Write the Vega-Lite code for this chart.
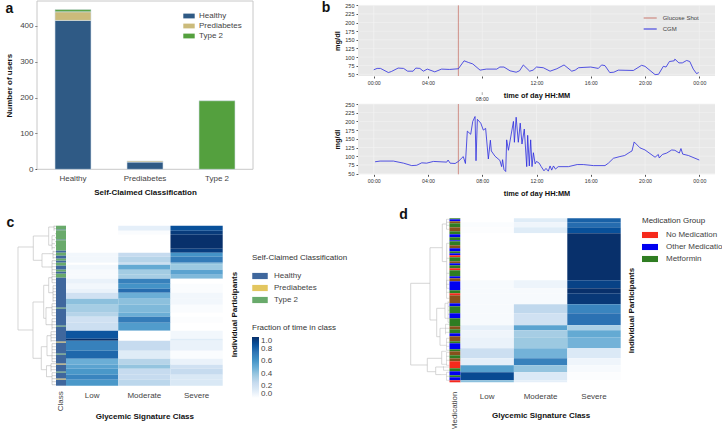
{
"$schema":"https://vega.github.io/schema/vega-lite/v6.json",
"width":722,"height":429,
"autosize":{"type":"none"},
"padding":0,
"background":"white",
"config":{"font":"Liberation Sans","view":{"stroke":null},"axis":{"labelFont":"Liberation Sans","titleFont":"Liberation Sans","labelFontSize":8,"titleFontSize":8,"titleFontWeight":"bold","titleColor":"#111","labelColor":"#444","grid":false,"labelAngle":0},"legend":{"labelFont":"Liberation Sans","titleFont":"Liberation Sans","labelFontSize":8,"titleFontSize":8,"titleFontWeight":"normal","labelColor":"#444","titleColor":"#333"}},
"datasets":{
"cgm1":[{"h":0,"v":63,"s":"CGM"},{"h":0.25,"v":67,"s":"CGM"},{"h":0.5,"v":67,"s":"CGM"},{"h":1.08,"v":55,"s":"CGM"},{"h":1.3,"v":58,"s":"CGM"},{"h":1.8,"v":68,"s":"CGM"},{"h":2.2,"v":67,"s":"CGM"},{"h":2.5,"v":59,"s":"CGM"},{"h":2.9,"v":59,"s":"CGM"},{"h":3.1,"v":68,"s":"CGM"},{"h":3.4,"v":67,"s":"CGM"},{"h":3.66,"v":59,"s":"CGM"},{"h":3.95,"v":65,"s":"CGM"},{"h":4.3,"v":60,"s":"CGM"},{"h":4.5,"v":57,"s":"CGM"},{"h":5,"v":65,"s":"CGM"},{"h":5.6,"v":64,"s":"CGM"},{"h":6.24,"v":66,"s":"CGM"},{"h":6.66,"v":89,"s":"CGM"},{"h":7,"v":84,"s":"CGM"},{"h":7.3,"v":80,"s":"CGM"},{"h":7.84,"v":62,"s":"CGM"},{"h":8.3,"v":65,"s":"CGM"},{"h":9.07,"v":65,"s":"CGM"},{"h":9.3,"v":71,"s":"CGM"},{"h":9.6,"v":71,"s":"CGM"},{"h":10.05,"v":60,"s":"CGM"},{"h":10.5,"v":56,"s":"CGM"},{"h":10.75,"v":60,"s":"CGM"},{"h":11.03,"v":77,"s":"CGM"},{"h":11.5,"v":59,"s":"CGM"},{"h":11.75,"v":62,"s":"CGM"},{"h":12,"v":71,"s":"CGM"},{"h":12.5,"v":69,"s":"CGM"},{"h":13,"v":59,"s":"CGM"},{"h":13.5,"v":66,"s":"CGM"},{"h":14.03,"v":77,"s":"CGM"},{"h":14.6,"v":59,"s":"CGM"},{"h":14.85,"v":62,"s":"CGM"},{"h":15.1,"v":69,"s":"CGM"},{"h":15.5,"v":70,"s":"CGM"},{"h":16,"v":71,"s":"CGM"},{"h":16.56,"v":67,"s":"CGM"},{"h":16.8,"v":77,"s":"CGM"},{"h":17.05,"v":75,"s":"CGM"},{"h":17.4,"v":55,"s":"CGM"},{"h":17.7,"v":56,"s":"CGM"},{"h":18.03,"v":62,"s":"CGM"},{"h":19.14,"v":61,"s":"CGM"},{"h":19.75,"v":76,"s":"CGM"},{"h":20,"v":73,"s":"CGM"},{"h":20.74,"v":49,"s":"CGM"},{"h":21,"v":50,"s":"CGM"},{"h":21.35,"v":73,"s":"CGM"},{"h":21.55,"v":71,"s":"CGM"},{"h":21.8,"v":87,"s":"CGM"},{"h":22.15,"v":89,"s":"CGM"},{"h":22.2,"v":94,"s":"CGM"},{"h":22.5,"v":83,"s":"CGM"},{"h":22.75,"v":83,"s":"CGM"},{"h":23.07,"v":90,"s":"CGM"},{"h":23.3,"v":87,"s":"CGM"},{"h":23.56,"v":65,"s":"CGM"},{"h":23.8,"v":52,"s":"CGM"},{"h":23.96,"v":55,"s":"CGM"}],
"cgm2":[{"h":0.1,"v":84},{"h":0.47,"v":86},{"h":1.45,"v":86},{"h":2.2,"v":80},{"h":2.8,"v":73},{"h":3.17,"v":74},{"h":3.54,"v":81},{"h":3.9,"v":80},{"h":4.4,"v":85},{"h":5.38,"v":83},{"h":5.48,"v":89},{"h":5.63,"v":80},{"h":6,"v":79},{"h":6.24,"v":85},{"h":6.6,"v":99},{"h":6.76,"v":79},{"h":6.9,"v":172},{"h":7.15,"v":163},{"h":7.3,"v":200},{"h":7.47,"v":214},{"h":7.54,"v":87},{"h":7.64,"v":206},{"h":7.89,"v":195},{"h":8.08,"v":175},{"h":8.25,"v":180},{"h":8.45,"v":92},{"h":8.6,"v":146},{"h":8.67,"v":115},{"h":8.94,"v":100},{"h":9.3,"v":88},{"h":9.43,"v":70},{"h":9.5,"v":90},{"h":9.6,"v":62},{"h":9.73,"v":56},{"h":9.8,"v":147},{"h":9.93,"v":117},{"h":10.3,"v":200},{"h":10.37,"v":140},{"h":10.5,"v":212},{"h":10.66,"v":140},{"h":10.8,"v":195},{"h":10.93,"v":135},{"h":11.1,"v":178},{"h":11.28,"v":70},{"h":11.35,"v":160},{"h":11.47,"v":72},{"h":11.57,"v":147},{"h":11.67,"v":70},{"h":11.77,"v":110},{"h":11.9,"v":78},{"h":12,"v":85},{"h":12.2,"v":80},{"h":12.35,"v":70},{"h":12.55,"v":58},{"h":12.7,"v":65},{"h":12.87,"v":57},{"h":13,"v":72},{"h":13.12,"v":60},{"h":13.25,"v":72},{"h":13.4,"v":63},{"h":13.6,"v":70},{"h":14.35,"v":70},{"h":15,"v":76},{"h":15.45,"v":76},{"h":16.2,"v":73},{"h":17.05,"v":73},{"h":17.3,"v":80},{"h":17.67,"v":94},{"h":18.15,"v":99},{"h":18.5,"v":102},{"h":18.9,"v":112},{"h":19.04,"v":115},{"h":19.2,"v":141},{"h":19.63,"v":124},{"h":20,"v":118},{"h":20.74,"v":97},{"h":20.98,"v":105},{"h":21.05,"v":95},{"h":21.28,"v":105},{"h":21.6,"v":109},{"h":21.97,"v":118},{"h":22.2,"v":117},{"h":22.53,"v":109},{"h":22.65,"v":122},{"h":22.78,"v":106},{"h":23.2,"v":102},{"h":24,"v":89}],
"hg":[{"h":0},{"h":4},{"h":8},{"h":12},{"h":16},{"h":20},{"h":24}],
"vg":[{"v":50},{"v":75},{"v":100},{"v":125},{"v":150},{"v":175},{"v":200},{"v":225},{"v":250}]
},
"resolve":{"scale":{"x":"independent","y":"independent","color":"independent"},"axis":{"x":"independent","y":"independent"},"legend":{"color":"independent"}},
"layer":[
{"data":{"values":[{"t":"a"}]},"mark":{"type":"text","x":9.5,"y":9,"fontSize":14,"fontWeight":"bold","color":"#111"},"encoding":{"text":{"field":"t"}}},
{"data":{"values":[{"t":"b"}]},"mark":{"type":"text","x":326,"y":8,"fontSize":14,"fontWeight":"bold","color":"#111"},"encoding":{"text":{"field":"t"}}},
{"data":{"values":[{"t":"c"}]},"mark":{"type":"text","x":10.5,"y":223,"fontSize":14,"fontWeight":"bold","color":"#111"},"encoding":{"text":{"field":"t"}}},
{"data":{"values":[{"t":"d"}]},"mark":{"type":"text","x":403.5,"y":215,"fontSize":14,"fontWeight":"bold","color":"#111"},"encoding":{"text":{"field":"t"}}},

{"data":{"values":[{"x0":0,"x1":1,"y0":0,"y1":1}]},"mark":{"type":"rect","fill":null,"stroke":"#c8c8c8","strokeWidth":1},"encoding":{"x":{"field":"x0","type":"quantitative","axis":null,"scale":{"domain":[0,1],"range":[37,253],"nice":false}},"x2":{"field":"x1"},"y":{"field":"y0","type":"quantitative","axis":null,"scale":{"domain":[0,1],"range":[169.3,1],"nice":false}},"y2":{"field":"y1"}}},
{"data":{"values":[{"c":"Healthy","t":"Healthy","n":415},{"c":"Healthy","t":"Prediabetes","n":24},{"c":"Healthy","t":"Type 2","n":6},{"c":"Prediabetes","t":"Healthy","n":20},{"c":"Prediabetes","t":"Prediabetes","n":3},{"c":"Type 2","t":"Type 2","n":191}]},
"mark":{"type":"bar","stroke":"#d3dfe9","strokeWidth":0.6},
"encoding":{
"x":{"field":"c","type":"nominal","title":"Self-Claimed Classification","sort":["Healthy","Prediabetes","Type 2"],"scale":{"range":[37,253],"paddingInner":0.5,"paddingOuter":0.25},"axis":{"orient":"bottom","offset":-259.7,"ticks":false,"labelPadding":5,"domain":false,"titlePadding":6}},
"y":{"field":"n","type":"quantitative","title":"Number of users","stack":"zero","scale":{"domain":[0,469],"nice":false,"range":[169.3,1]},"axis":{"orient":"left","offset":-37,"values":[0,100,200,300,400],"tickSize":2,"tickColor":"#444","domain":false,"labelPadding":2,"titlePadding":6}},
"color":{"field":"t","type":"nominal","scale":{"domain":["Healthy","Prediabetes","Type 2"],"range":["#2f5a85","#cbbb7b","#54a03e"]},"legend":{"title":null,"orient":"none","legendX":183,"legendY":10,"symbolType":"M-1,-0.42H1V0.42H-1Z","symbolSize":130,"symbolStrokeWidth":0,"labelOffset":4,"rowPadding":0}},
"order":{"field":"t","sort":"ascending"}
}},

{"layer":[
{"data":{"values":[{"s":"bg"}]},"mark":{"type":"rect","color":"#e8e8e8"},"encoding":{"x":{"datum":-1.16,"type":"quantitative","axis":null,"scale":{"domain":[-1.16,25.16],"range":[358,715],"nice":false,"zero":false}},"x2":{"datum":25.16},"y":{"datum":45,"type":"quantitative","axis":null,"scale":{"domain":[45,250],"range":[76,5.3],"nice":false,"zero":false}},"y2":{"datum":250}}},
{"data":{"name":"hg"},"mark":{"type":"rule","color":"#f4f4f4","strokeWidth":0.6},"encoding":{"x":{"field":"h","type":"quantitative","axis":null},"y":{"datum":45,"type":"quantitative","axis":null},"y2":{"datum":250}}},
{"data":{"name":"vg"},"mark":{"type":"rule","color":"#f4f4f4","strokeWidth":0.6},"encoding":{"y":{"field":"v","type":"quantitative","axis":null},"x":{"datum":-1.16,"type":"quantitative","axis":null},"x2":{"datum":25.16}}},
{"data":{"values":[{"h":6.24}]},"mark":{"type":"rule","strokeWidth":0.8,"color":"#c9796e"},"encoding":{"x":{"field":"h","type":"quantitative","axis":null},"y":{"datum":45,"type":"quantitative","axis":null},"y2":{"datum":250}}},
{"data":{"values":[{"h":8,"v":-10,"v2":-2}]},"mark":{"type":"rule","strokeWidth":0.5,"color":"#555"},"encoding":{"x":{"field":"h","type":"quantitative","axis":null},"y":{"field":"v","type":"quantitative","axis":null},"y2":{"field":"v2"}}},
{"data":{"values":[{"h":8,"v":-20.8,"t":"08:00"}]},"mark":{"type":"text","fontSize":5.2,"color":"#333"},"encoding":{"x":{"field":"h","type":"quantitative","axis":null},"y":{"field":"v","type":"quantitative","axis":null},"text":{"field":"t"}}}
]},
{"data":{"name":"cgm1"},"mark":{"type":"line","strokeWidth":0.8},"encoding":{"x":{"field":"h","type":"quantitative","title":"time of day HH:MM","scale":{"domain":[-1.16,25.16],"range":[358,715],"nice":false,"zero":false},"axis":{"orient":"bottom","offset":-353,"values":[0,4,8,12,16,20,24],"labelExpr":"datum.value==8?'':(datum.value%24<10?'0':'')+(datum.value%24)+':00'","tickSize":2,"tickColor":"#555","domain":false,"labelFontSize":5.2,"labelPadding":2,"labelColor":"#333","titleFontSize":7.4,"titlePadding":6}},"y":{"field":"v","type":"quantitative","title":"mg/dl","scale":{"domain":[45,250],"range":[76,5.3],"nice":false,"zero":false},"axis":{"orient":"left","offset":-358,"values":[50,75,100,125,150,175,200,225,250],"tickSize":2,"tickColor":"#555","domain":false,"labelFontSize":5.6,"labelPadding":2,"labelColor":"#333","titleFontSize":7.4,"titlePadding":3}},"color":{"field":"s","type":"nominal","scale":{"domain":["Glucose Shot","CGM"],"range":["#c9796e","#2b2be0"]},"legend":{"title":null,"orient":"none","legendX":642.7,"legendY":10.5,"symbolType":"stroke","symbolSize":170,"symbolStrokeWidth":1,"labelFontSize":6,"labelOffset":5,"rowPadding":-4}}}},

{"layer":[
{"data":{"values":[{"s":"bg"}]},"mark":{"type":"rect","color":"#e8e8e8"},"encoding":{"x":{"datum":-1.16,"type":"quantitative","axis":null,"scale":{"domain":[-1.16,25.16],"range":[358,715],"nice":false,"zero":false}},"x2":{"datum":25.16},"y":{"datum":48,"type":"quantitative","axis":null,"scale":{"domain":[48,250],"range":[174.3,104],"nice":false,"zero":false}},"y2":{"datum":250}}},
{"data":{"name":"hg"},"mark":{"type":"rule","color":"#f4f4f4","strokeWidth":0.6},"encoding":{"x":{"field":"h","type":"quantitative","axis":null},"y":{"datum":48,"type":"quantitative","axis":null},"y2":{"datum":250}}},
{"data":{"name":"vg"},"mark":{"type":"rule","color":"#f4f4f4","strokeWidth":0.6},"encoding":{"y":{"field":"v","type":"quantitative","axis":null},"x":{"datum":-1.16,"type":"quantitative","axis":null},"x2":{"datum":25.16}}},
{"data":{"values":[{"h":6.24}]},"mark":{"type":"rule","strokeWidth":0.8,"color":"#c9796e"},"encoding":{"x":{"field":"h","type":"quantitative","axis":null},"y":{"datum":48,"type":"quantitative","axis":null},"y2":{"datum":250}}}
]},
{"data":{"name":"cgm2"},"mark":{"type":"line","strokeWidth":0.8,"color":"#2b2be0"},"encoding":{"x":{"field":"h","type":"quantitative","title":"time of day HH:MM","scale":{"domain":[-1.16,25.16],"range":[358,715],"nice":false,"zero":false},"axis":{"orient":"bottom","offset":-254.7,"values":[0,4,8,12,16,20,24],"labelExpr":"(datum.value%24<10?'0':'')+(datum.value%24)+':00'","tickSize":2,"tickColor":"#555","domain":false,"labelFontSize":5.2,"labelPadding":2,"labelColor":"#333","titleFontSize":7.4,"titlePadding":6}},"y":{"field":"v","type":"quantitative","title":"mg/dl","scale":{"domain":[48,250],"range":[174.3,104],"nice":false,"zero":false},"axis":{"orient":"left","offset":-358,"values":[50,75,100,125,150,175,200,225,250],"tickSize":2,"tickColor":"#555","domain":false,"labelFontSize":5.6,"labelPadding":2,"labelColor":"#333","titleFontSize":7.4,"titlePadding":3}}}},

{"layer":[
{"data":{"values":[
{"a":38,"b":38,"c":21.3,"d":104.3},{"a":38,"b":22.7,"c":21.3,"d":21.3},{"a":22.7,"b":22.7,"c":10.3,"d":34.6},{"a":22.7,"b":7.3,"c":10.3,"d":10.3},{"a":22.7,"b":14,"c":34.6,"d":34.6},{"a":7.3,"b":7.3,"c":1.3,"d":19.5},{"a":14,"b":14,"c":28,"d":41.3},{"a":38,"b":23,"c":104.3,"d":104.3},{"a":23,"b":23,"c":76.3,"d":132.6},{"a":23,"b":12.3,"c":76.3,"d":76.3},{"a":12.3,"b":12.3,"c":59.6,"d":92.6},{"a":12.3,"b":7.3,"c":59.6,"d":59.6},{"a":7.3,"b":7.3,"c":52,"d":67},{"a":12.3,"b":10,"c":92.6,"d":92.6},{"a":10,"b":10,"c":82,"d":99},{"a":23,"b":14.7,"c":132.6,"d":132.6},{"a":14.7,"b":14.7,"c":121,"d":144},{"a":14.7,"b":9,"c":121,"d":121},{"a":9,"b":9,"c":110,"d":130},{"a":14.7,"b":9.5,"c":144,"d":144},{"a":9.5,"b":9.5,"c":140,"d":151},{"a":14,"b":7,"c":28,"d":28},{"a":14,"b":8,"c":41.3,"d":41.3}
]},"mark":{"type":"rule","strokeWidth":0.7,"color":"#c4c4c4"},"encoding":{"x":{"field":"a","type":"quantitative","axis":null,"scale":{"domain":[38,0],"range":[18,56],"nice":false,"zero":false}},"x2":{"field":"b"},"y":{"field":"c","type":"quantitative","axis":null,"scale":{"domain":[0,160],"range":[225.7,385.7],"nice":false,"zero":false}},"y2":{"field":"d"}}},
{"data":{"values":[
{"a":7.3,"b":2,"c":1.3,"d":1.3},{"a":2,"b":2,"c":0,"d":5},{"a":2,"b":0,"c":0.5,"d":0.5},{"a":2,"b":0,"c":3,"d":3},{"a":7.3,"b":4,"c":19.5,"d":19.5},{"a":4,"b":4,"c":10,"d":24},{"a":4,"b":1,"c":10,"d":10},{"a":4,"b":1,"c":14,"d":14},{"a":4,"b":1,"c":18,"d":18},{"a":4,"b":1,"c":22,"d":22},{"a":1,"b":0,"c":8,"d":8},{"a":1,"b":0,"c":12,"d":12},{"a":1,"b":0,"c":16,"d":16},{"a":1,"b":0,"c":20,"d":20},
{"a":7,"b":3,"c":28,"d":28},{"a":3,"b":3,"c":25,"d":33},{"a":3,"b":0,"c":26,"d":26},{"a":3,"b":0,"c":29,"d":29},{"a":3,"b":0,"c":32,"d":32},{"a":8,"b":4,"c":41.3,"d":41.3},{"a":4,"b":4,"c":35,"d":49},{"a":4,"b":0,"c":35,"d":35},{"a":4,"b":0,"c":38,"d":38},{"a":4,"b":0,"c":41,"d":41},{"a":4,"b":0,"c":44,"d":44},{"a":4,"b":0,"c":47,"d":47},{"a":4,"b":0,"c":49,"d":49},
{"a":7.3,"b":4,"c":52,"d":52},{"a":4,"b":4,"c":50,"d":57},{"a":4,"b":0,"c":51,"d":51},{"a":4,"b":0,"c":54,"d":54},{"a":4,"b":0,"c":57,"d":57},{"a":7.3,"b":3,"c":67,"d":67},{"a":3,"b":3,"c":60,"d":76},{"a":3,"b":0,"c":60,"d":60},{"a":3,"b":0,"c":63,"d":63},{"a":3,"b":0,"c":66,"d":66},{"a":3,"b":0,"c":69,"d":69},{"a":3,"b":0,"c":72,"d":72},{"a":3,"b":0,"c":75,"d":75},
{"a":10,"b":4,"c":82,"d":82},{"a":4,"b":4,"c":78,"d":90},{"a":4,"b":0,"c":78,"d":78},{"a":4,"b":0,"c":81,"d":81},{"a":4,"b":0,"c":84,"d":84},{"a":4,"b":0,"c":87,"d":87},{"a":4,"b":0,"c":90,"d":90},{"a":10,"b":4,"c":99,"d":99},{"a":4,"b":4,"c":93,"d":104},{"a":4,"b":0,"c":93,"d":93},{"a":4,"b":0,"c":96,"d":96},{"a":4,"b":0,"c":99,"d":99},{"a":4,"b":0,"c":102,"d":102},
{"a":9,"b":5,"c":110,"d":110},{"a":5,"b":5,"c":106,"d":116},{"a":5,"b":0,"c":106,"d":106},{"a":5,"b":0,"c":109,"d":109},{"a":5,"b":0,"c":112,"d":112},{"a":5,"b":0,"c":115,"d":115},{"a":9,"b":4,"c":130,"d":130},{"a":4,"b":4,"c":118,"d":136},{"a":4,"b":0,"c":118,"d":118},{"a":4,"b":0,"c":121,"d":121},{"a":4,"b":0,"c":124,"d":124},{"a":4,"b":0,"c":127,"d":127},{"a":4,"b":0,"c":130,"d":130},{"a":4,"b":0,"c":133,"d":133},{"a":4,"b":0,"c":136,"d":136},
{"a":9.5,"b":5,"c":140,"d":140},{"a":5,"b":5,"c":138,"d":146},{"a":5,"b":0,"c":138,"d":138},{"a":5,"b":0,"c":141,"d":141},{"a":5,"b":0,"c":144,"d":144},{"a":9.5,"b":4,"c":151,"d":151},{"a":4,"b":4,"c":147,"d":159},{"a":4,"b":0,"c":147,"d":147},{"a":4,"b":0,"c":150,"d":150},{"a":4,"b":0,"c":153,"d":153},{"a":4,"b":0,"c":156,"d":156},{"a":4,"b":0,"c":159,"d":159}
]},"mark":{"type":"rule","strokeWidth":0.4,"color":"#8f8f8f"},"encoding":{"x":{"field":"a","type":"quantitative","axis":null},"x2":{"field":"b"},"y":{"field":"c","type":"quantitative","axis":null},"y2":{"field":"d"}}}
]},

{"data":{"values":[
{"l":"Class","y0":0,"y1":4,"k":"Type 2"},{"l":"Class","y0":4,"y1":4.6,"k":"Healthy"},{"l":"Class","y0":4.6,"y1":14,"k":"Type 2"},{"l":"Class","y0":14,"y1":14.6,"k":"Healthy"},{"l":"Class","y0":14.6,"y1":25,"k":"Type 2"},{"l":"Class","y0":25,"y1":27,"k":"Healthy"},{"l":"Class","y0":27,"y1":30,"k":"Type 2"},{"l":"Class","y0":30,"y1":33,"k":"Healthy"},{"l":"Class","y0":33,"y1":35,"k":"Type 2"},{"l":"Class","y0":35,"y1":37,"k":"Healthy"},{"l":"Class","y0":37,"y1":40,"k":"Type 2"},{"l":"Class","y0":40,"y1":44,"k":"Healthy"},{"l":"Class","y0":44,"y1":46,"k":"Type 2"},{"l":"Class","y0":46,"y1":48,"k":"Healthy"},{"l":"Class","y0":48,"y1":52,"k":"Type 2"},{"l":"Class","y0":52,"y1":82,"k":"Healthy"},{"l":"Class","y0":82,"y1":83,"k":"Type 2"},{"l":"Class","y0":83,"y1":100,"k":"Healthy"},{"l":"Class","y0":100,"y1":101,"k":"Type 2"},{"l":"Class","y0":101,"y1":116,"k":"Healthy"},{"l":"Class","y0":116,"y1":117,"k":"Prediabetes"},{"l":"Class","y0":117,"y1":128,"k":"Healthy"},{"l":"Class","y0":128,"y1":129,"k":"Type 2"},{"l":"Class","y0":129,"y1":138,"k":"Healthy"},{"l":"Class","y0":138,"y1":139,"k":"Prediabetes"},{"l":"Class","y0":139,"y1":146,"k":"Healthy"},{"l":"Class","y0":146,"y1":147,"k":"Type 2"},{"l":"Class","y0":147,"y1":153,"k":"Healthy"},{"l":"Class","y0":153,"y1":154,"k":"Prediabetes"},{"l":"Class","y0":154,"y1":160,"k":"Healthy"}
]},
"mark":"rect",
"encoding":{
"x":{"field":"l","type":"nominal","title":null,"scale":{"range":[56,66],"paddingInner":0,"paddingOuter":0},"axis":{"orient":"bottom","offset":-43.3,"ticks":false,"domain":false,"labelAngle":270,"labelAlign":"right","labelBaseline":"middle","labelPadding":5}},
"y":{"field":"y0","type":"quantitative","axis":null,"scale":{"domain":[0,160],"range":[225.7,385.7],"nice":false,"zero":false}},"y2":{"field":"y1"},
"color":{"field":"k","type":"nominal","scale":{"domain":["Healthy","Prediabetes","Type 2"],"range":["#3f679d","#e3c65f","#69aa6b"]},"legend":{"title":"Self-Claimed Classification","orient":"none","legendX":252,"legendY":254,"symbolType":"M-1,-0.4H1V0.4H-1Z","symbolSize":240,"symbolStrokeWidth":0,"labelOffset":6,"rowPadding":-4.5,"titlePadding":6}}
}},
{"data":{"values":[
{"y0":0,"y1":5,"k":"Low","f":0},{"y0":0,"y1":5,"k":"Moderate","f":0.1},{"y0":0,"y1":5,"k":"Severe","f":0.88},
{"y0":5,"y1":9,"k":"Low","f":0},{"y0":5,"y1":9,"k":"Moderate","f":0.02},{"y0":5,"y1":9,"k":"Severe","f":0.96},
{"y0":9,"y1":23,"k":"Low","f":0},{"y0":9,"y1":23,"k":"Moderate","f":0},{"y0":9,"y1":23,"k":"Severe","f":1},
{"y0":23,"y1":27,"k":"Low","f":0},{"y0":23,"y1":27,"k":"Moderate","f":0},{"y0":23,"y1":27,"k":"Severe","f":0.95},
{"y0":27,"y1":31,"k":"Low","f":0.05},{"y0":27,"y1":31,"k":"Moderate","f":0.25},{"y0":27,"y1":31,"k":"Severe","f":0.62},
{"y0":31,"y1":37,"k":"Low","f":0.05},{"y0":31,"y1":37,"k":"Moderate","f":0.3},{"y0":31,"y1":37,"k":"Severe","f":0.72},
{"y0":37,"y1":39,"k":"Low","f":0},{"y0":37,"y1":39,"k":"Moderate","f":0.22},{"y0":37,"y1":39,"k":"Severe","f":0.42},
{"y0":39,"y1":44,"k":"Low","f":0.05},{"y0":39,"y1":44,"k":"Moderate","f":0.52},{"y0":39,"y1":44,"k":"Severe","f":0.38},
{"y0":44,"y1":49,"k":"Low","f":0.03},{"y0":44,"y1":49,"k":"Moderate","f":0.36},{"y0":44,"y1":49,"k":"Severe","f":0.55},
{"y0":49,"y1":53,"k":"Low","f":0.03},{"y0":49,"y1":53,"k":"Moderate","f":0.35},{"y0":49,"y1":53,"k":"Severe","f":0.45},
{"y0":53,"y1":58,"k":"Low","f":0.08},{"y0":53,"y1":58,"k":"Moderate","f":0.7},{"y0":53,"y1":58,"k":"Severe","f":0},
{"y0":58,"y1":63,"k":"Low","f":0.05},{"y0":58,"y1":63,"k":"Moderate","f":0.62},{"y0":58,"y1":63,"k":"Severe","f":0.02},
{"y0":63,"y1":67,"k":"Low","f":0.08},{"y0":63,"y1":67,"k":"Moderate","f":0.78},{"y0":63,"y1":67,"k":"Severe","f":0.02},
{"y0":67,"y1":73,"k":"Low","f":0.2},{"y0":67,"y1":73,"k":"Moderate","f":0.5},{"y0":67,"y1":73,"k":"Severe","f":0.05},
{"y0":73,"y1":79,"k":"Low","f":0.42},{"y0":73,"y1":79,"k":"Moderate","f":0.42},{"y0":73,"y1":79,"k":"Severe","f":0.05},
{"y0":79,"y1":87,"k":"Low","f":0.35},{"y0":79,"y1":87,"k":"Moderate","f":0.45},{"y0":79,"y1":87,"k":"Severe","f":0.02},
{"y0":87,"y1":91,"k":"Low","f":0.3},{"y0":87,"y1":91,"k":"Moderate","f":0.5},{"y0":87,"y1":91,"k":"Severe","f":0},
{"y0":91,"y1":97,"k":"Low","f":0.2},{"y0":91,"y1":97,"k":"Moderate","f":0.72},{"y0":91,"y1":97,"k":"Severe","f":0.01},
{"y0":97,"y1":105,"k":"Low","f":0.22},{"y0":97,"y1":105,"k":"Moderate","f":0.58},{"y0":97,"y1":105,"k":"Severe","f":0},
{"y0":105,"y1":113,"k":"Low","f":0.86},{"y0":105,"y1":113,"k":"Moderate","f":0},{"y0":105,"y1":113,"k":"Severe","f":0.05},
{"y0":113,"y1":115,"k":"Low","f":1},{"y0":113,"y1":115,"k":"Moderate","f":0},{"y0":113,"y1":115,"k":"Severe","f":0.12},
{"y0":115,"y1":125,"k":"Low","f":0.7},{"y0":115,"y1":125,"k":"Moderate","f":0.25},{"y0":115,"y1":125,"k":"Severe","f":0.08},
{"y0":125,"y1":133,"k":"Low","f":0.8},{"y0":125,"y1":133,"k":"Moderate","f":0.12},{"y0":125,"y1":133,"k":"Severe","f":0.02},
{"y0":133,"y1":139,"k":"Low","f":0.5},{"y0":133,"y1":139,"k":"Moderate","f":0.3},{"y0":133,"y1":139,"k":"Severe","f":0.08},
{"y0":139,"y1":143,"k":"Low","f":0.55},{"y0":139,"y1":143,"k":"Moderate","f":0.4},{"y0":139,"y1":143,"k":"Severe","f":0.2},
{"y0":143,"y1":149,"k":"Low","f":0.6},{"y0":143,"y1":149,"k":"Moderate","f":0.25},{"y0":143,"y1":149,"k":"Severe","f":0.25},
{"y0":149,"y1":154,"k":"Low","f":0.68},{"y0":149,"y1":154,"k":"Moderate","f":0.25},{"y0":149,"y1":154,"k":"Severe","f":0.15},
{"y0":154,"y1":160,"k":"Low","f":0.6},{"y0":154,"y1":160,"k":"Moderate","f":0.28},{"y0":154,"y1":160,"k":"Severe","f":0.15}
]},
"mark":"rect",
"encoding":{
"x":{"field":"k","type":"nominal","title":"Glycemic Signature Class","scale":{"domain":["Low","Moderate","Severe"],"range":[66,222.7],"paddingInner":0,"paddingOuter":0},"axis":{"orient":"bottom","offset":-43.3,"ticks":false,"domain":false,"labelPadding":6,"titlePadding":13}},
"y":{"field":"y0","type":"quantitative","title":"Individual Participants","scale":{"domain":[0,160],"range":[225.7,385.7],"nice":false,"zero":false},"axis":{"orient":"right","offset":-499.3,"ticks":false,"labels":false,"domain":false,"titleAngle":270,"titleY":314,"titlePadding":16}},
"y2":{"field":"y1"},
"color":{"field":"f","type":"quantitative","scale":{"domain":[0,1],"interpolate":"rgb","range":["#ffffff","#deebf7","#c6dbef","#9ecae1","#6baed6","#4292c6","#2f75b5","#08519c","#08306b"]},"legend":{"title":"Fraction of time in class","orient":"none","legendX":252,"legendY":324,"direction":"vertical","gradientLength":61,"gradientThickness":7,"values":[0,0.2,0.4,0.6,0.8,1],"format":".1f","titlePadding":5}}
}},

{"layer":[
{"data":{"values":[
{"a":38.8,"b":38.8,"c":65,"d":146.7},{"a":38.8,"b":19.5,"c":65,"d":65},{"a":19.5,"b":19.5,"c":29.4,"d":101.7},{"a":19.5,"b":7.2,"c":29.4,"d":29.4},{"a":7.2,"b":7.2,"c":5.7,"d":43.3},{"a":19.5,"b":12.8,"c":101.7,"d":101.7},{"a":12.8,"b":12.8,"c":90,"d":118.4},{"a":12.8,"b":4.5,"c":90,"d":90},{"a":4.5,"b":4.5,"c":85,"d":100},{"a":12.8,"b":9.5,"c":118.4,"d":118.4},{"a":9.5,"b":9.5,"c":110,"d":127},{"a":38.8,"b":22.2,"c":146.7,"d":146.7},{"a":22.2,"b":22.2,"c":140,"d":153.4},{"a":22.2,"b":7.8,"c":140,"d":140},{"a":7.8,"b":7.8,"c":133,"d":146},{"a":22.2,"b":13.8,"c":153.4,"d":153.4},{"a":13.8,"b":13.8,"c":148.7,"d":156.3},{"a":13.8,"b":6,"c":148.7,"d":148.7},{"a":13.8,"b":8,"c":156.3,"d":156.3},{"a":7.2,"b":2.8,"c":43.3,"d":43.3},{"a":2.8,"b":2.8,"c":25,"d":70},{"a":7.2,"b":3,"c":5.7,"d":5.7},{"a":3,"b":3,"c":1,"d":11}
]},"mark":{"type":"rule","strokeWidth":0.7,"color":"#c4c4c4"},"encoding":{"x":{"field":"a","type":"quantitative","axis":null,"scale":{"domain":[39.5,0],"range":[410,449.5],"nice":false,"zero":false}},"x2":{"field":"b"},"y":{"field":"c","type":"quantitative","axis":null,"scale":{"domain":[0,164],"range":[218.3,382.3],"nice":false,"zero":false}},"y2":{"field":"d"}}},
{"data":{"values":[
{"a":3,"b":0,"c":1,"d":1},{"a":3,"b":0,"c":4,"d":4},{"a":3,"b":0,"c":7,"d":7},{"a":3,"b":0,"c":11,"d":11},{"a":2.8,"b":0,"c":25,"d":25},{"a":2.8,"b":0,"c":40,"d":40},{"a":2.8,"b":0,"c":55,"d":55},{"a":2.8,"b":0,"c":70,"d":70},{"a":3,"b":3,"c":62,"d":80},{"a":3,"b":0,"c":62,"d":62},{"a":3,"b":0,"c":66,"d":66},{"a":3,"b":0,"c":74,"d":74},{"a":3,"b":0,"c":80,"d":80},
{"a":4.5,"b":1.5,"c":85,"d":85},{"a":4.5,"b":1.5,"c":100,"d":100},{"a":1.5,"b":1.5,"c":83,"d":104},{"a":1.5,"b":0,"c":84,"d":84},{"a":1.5,"b":0,"c":88,"d":88},{"a":1.5,"b":0,"c":92,"d":92},{"a":1.5,"b":0,"c":96,"d":96},{"a":1.5,"b":0,"c":100,"d":100},{"a":1.5,"b":0,"c":104,"d":104},
{"a":9.5,"b":4,"c":110,"d":110},{"a":9.5,"b":3,"c":127,"d":127},{"a":4,"b":4,"c":106,"d":116},{"a":3,"b":3,"c":120,"d":132},{"a":4,"b":0,"c":106,"d":106},{"a":4,"b":0,"c":110,"d":110},{"a":4,"b":0,"c":114,"d":114},{"a":3,"b":0,"c":120,"d":120},{"a":3,"b":0,"c":124,"d":124},{"a":3,"b":0,"c":128,"d":128},{"a":3,"b":0,"c":132,"d":132},
{"a":7.8,"b":3,"c":133,"d":133},{"a":7.8,"b":3,"c":146,"d":146},{"a":3,"b":3,"c":134,"d":147},{"a":3,"b":0,"c":134,"d":134},{"a":3,"b":0,"c":138,"d":138},{"a":3,"b":0,"c":142,"d":142},{"a":3,"b":0,"c":147,"d":147},{"a":6,"b":0,"c":148.7,"d":148.7},{"a":6,"b":6,"c":148,"d":152},{"a":6,"b":0,"c":152,"d":152},{"a":8,"b":3,"c":156.3,"d":156.3},{"a":3,"b":3,"c":154,"d":162},{"a":3,"b":0,"c":154,"d":154},{"a":3,"b":0,"c":158,"d":158},{"a":3,"b":0,"c":162,"d":162}
]},"mark":{"type":"rule","strokeWidth":0.4,"color":"#a8a8a8"},"encoding":{"x":{"field":"a","type":"quantitative","axis":null},"x2":{"field":"b"},"y":{"field":"c","type":"quantitative","axis":null},"y2":{"field":"d"}}}
]},

{"data":{"values":[
{"l":"Medication","y0":0,"y1":1,"m":"Metformin"},{"l":"Medication","y0":1,"y1":3,"m":"Other Medication"},{"l":"Medication","y0":3,"y1":5,"m":"Mixed"},{"l":"Medication","y0":5,"y1":9,"m":"Metformin"},{"l":"Medication","y0":9,"y1":13,"m":"Mixed"},{"l":"Medication","y0":13,"y1":16,"m":"Metformin"},{"l":"Medication","y0":16,"y1":19,"m":"Other Medication"},{"l":"Medication","y0":19,"y1":22,"m":"Metformin"},{"l":"Medication","y0":22,"y1":23,"m":"Other Medication"},{"l":"Medication","y0":23,"y1":27,"m":"Metformin"},{"l":"Medication","y0":27,"y1":30,"m":"Mixed"},{"l":"Medication","y0":30,"y1":33,"m":"Other Medication"},{"l":"Medication","y0":33,"y1":35,"m":"Metformin"},{"l":"Medication","y0":35,"y1":37,"m":"Other Medication"},{"l":"Medication","y0":37,"y1":39,"m":"No Medication"},{"l":"Medication","y0":39,"y1":43,"m":"Metformin"},{"l":"Medication","y0":43,"y1":45,"m":"Mixed"},{"l":"Medication","y0":45,"y1":47,"m":"Other Medication"},{"l":"Medication","y0":47,"y1":50,"m":"Metformin"},{"l":"Medication","y0":50,"y1":52,"m":"No Medication"},{"l":"Medication","y0":52,"y1":58,"m":"Metformin"},{"l":"Medication","y0":58,"y1":60,"m":"Other Medication"},{"l":"Medication","y0":60,"y1":63,"m":"Mixed"},{"l":"Medication","y0":63,"y1":72,"m":"Other Medication"},{"l":"Medication","y0":72,"y1":75,"m":"Metformin"},{"l":"Medication","y0":75,"y1":77,"m":"No Medication"},{"l":"Medication","y0":77,"y1":85,"m":"Mixed"},{"l":"Medication","y0":85,"y1":88,"m":"Other Medication"},{"l":"Medication","y0":88,"y1":95,"m":"Metformin"},{"l":"Medication","y0":95,"y1":100,"m":"Other Medication"},{"l":"Medication","y0":100,"y1":108,"m":"Metformin"},{"l":"Medication","y0":108,"y1":111,"m":"Mixed"},{"l":"Medication","y0":111,"y1":115,"m":"Metformin"},{"l":"Medication","y0":115,"y1":118,"m":"Other Medication"},{"l":"Medication","y0":118,"y1":123,"m":"Mixed"},{"l":"Medication","y0":123,"y1":125,"m":"Metformin"},{"l":"Medication","y0":125,"y1":131,"m":"Other Medication"},{"l":"Medication","y0":131,"y1":133,"m":"Metformin"},{"l":"Medication","y0":133,"y1":137,"m":"Mixed"},{"l":"Medication","y0":137,"y1":140,"m":"Metformin"},{"l":"Medication","y0":140,"y1":143,"m":"Mixed"},{"l":"Medication","y0":143,"y1":150,"m":"No Medication"},{"l":"Medication","y0":150,"y1":153,"m":"Metformin"},{"l":"Medication","y0":153,"y1":157,"m":"Other Medication"},{"l":"Medication","y0":157,"y1":159,"m":"Metformin"},{"l":"Medication","y0":159,"y1":162,"m":"Other Medication"},{"l":"Medication","y0":162,"y1":164,"m":"No Medication"}
]},
"mark":"rect",
"encoding":{
"x":{"field":"l","type":"nominal","title":null,"scale":{"range":[449.5,460.5],"paddingInner":0,"paddingOuter":0},"axis":{"orient":"bottom","offset":-46.7,"ticks":false,"domain":false,"labelAngle":270,"labelAlign":"right","labelBaseline":"middle","labelPadding":8.7}},
"y":{"field":"y0","type":"quantitative","axis":null,"scale":{"domain":[0,164],"range":[218.3,382.3],"nice":false,"zero":false}},"y2":{"field":"y1"},
"color":{"field":"m","type":"nominal","scale":{"domain":["No Medication","Other Medication","Metformin","Mixed"],"range":["#f6291c","#0000f0","#2f7d22","#87511c"]},"legend":{"title":"Medication Group","values":["No Medication","Other Medication","Metformin"],"orient":"none","legendX":642,"legendY":217,"symbolType":"M-1,-0.38H1V0.38H-1Z","symbolSize":256,"symbolStrokeWidth":0,"labelOffset":8,"rowPadding":-5,"titlePadding":2}}
}},
{"data":{"values":[
{"y0":0,"y1":4,"k":"Low","f":0},{"y0":0,"y1":4,"k":"Moderate","f":0.12},{"y0":0,"y1":4,"k":"Severe","f":0.82},
{"y0":4,"y1":9,"k":"Low","f":0.02},{"y0":4,"y1":9,"k":"Moderate","f":0.06},{"y0":4,"y1":9,"k":"Severe","f":0.78},
{"y0":9,"y1":15,"k":"Low","f":0.01},{"y0":9,"y1":15,"k":"Moderate","f":0.12},{"y0":9,"y1":15,"k":"Severe","f":0.88},
{"y0":15,"y1":62,"k":"Low","f":0},{"y0":15,"y1":62,"k":"Moderate","f":0},{"y0":15,"y1":62,"k":"Severe","f":1},
{"y0":62,"y1":70,"k":"Low","f":0.03},{"y0":62,"y1":70,"k":"Moderate","f":0.07},{"y0":62,"y1":70,"k":"Severe","f":0.93},
{"y0":70,"y1":75,"k":"Low","f":0.03},{"y0":70,"y1":75,"k":"Moderate","f":0.03},{"y0":70,"y1":75,"k":"Severe","f":1},
{"y0":75,"y1":86,"k":"Low","f":0.03},{"y0":75,"y1":86,"k":"Moderate","f":0.03},{"y0":75,"y1":86,"k":"Severe","f":0.97},
{"y0":86,"y1":95,"k":"Low","f":0.03},{"y0":86,"y1":95,"k":"Moderate","f":0.27},{"y0":86,"y1":95,"k":"Severe","f":0.68},
{"y0":95,"y1":107,"k":"Low","f":0.03},{"y0":95,"y1":107,"k":"Moderate","f":0.2},{"y0":95,"y1":107,"k":"Severe","f":0.76},
{"y0":107,"y1":112,"k":"Low","f":0.1},{"y0":107,"y1":112,"k":"Moderate","f":0.55},{"y0":107,"y1":112,"k":"Severe","f":0.33},
{"y0":112,"y1":119,"k":"Low","f":0.06},{"y0":112,"y1":119,"k":"Moderate","f":0.35},{"y0":112,"y1":119,"k":"Severe","f":0.52},
{"y0":119,"y1":130,"k":"Low","f":0.08},{"y0":119,"y1":130,"k":"Moderate","f":0.38},{"y0":119,"y1":130,"k":"Severe","f":0.48},
{"y0":130,"y1":140,"k":"Low","f":0.22},{"y0":130,"y1":140,"k":"Moderate","f":0.48},{"y0":130,"y1":140,"k":"Severe","f":0.14},
{"y0":140,"y1":147,"k":"Low","f":0.1},{"y0":140,"y1":147,"k":"Moderate","f":0.7},{"y0":140,"y1":147,"k":"Severe","f":0.06},
{"y0":147,"y1":154,"k":"Low","f":0.56},{"y0":147,"y1":154,"k":"Moderate","f":0.4},{"y0":147,"y1":154,"k":"Severe","f":0.03},
{"y0":154,"y1":162,"k":"Low","f":0.9},{"y0":154,"y1":162,"k":"Moderate","f":0.14},{"y0":154,"y1":162,"k":"Severe","f":0.01},
{"y0":162,"y1":164,"k":"Low","f":0.42},{"y0":162,"y1":164,"k":"Moderate","f":0.1},{"y0":162,"y1":164,"k":"Severe","f":0}
]},
"mark":"rect",
"encoding":{
"x":{"field":"k","type":"nominal","title":"Glycemic Signature Class","scale":{"domain":["Low","Moderate","Severe"],"range":[460.5,620.7],"paddingInner":0,"paddingOuter":0},"axis":{"orient":"bottom","offset":-46.7,"ticks":false,"domain":false,"labelPadding":10,"titlePadding":11}},
"y":{"field":"y0","type":"quantitative","title":"Individual Participants","scale":{"domain":[0,164],"range":[218.3,382.3],"nice":false,"zero":false},"axis":{"orient":"right","offset":-101.3,"ticks":false,"labels":false,"domain":false,"titleAngle":270,"titleY":310,"titlePadding":15}},
"y2":{"field":"y1"},
"color":{"field":"f","type":"quantitative","legend":null,"scale":{"domain":[0,1],"interpolate":"rgb","range":["#ffffff","#deebf7","#c6dbef","#9ecae1","#6baed6","#4292c6","#2f75b5","#08519c","#08306b"]}}
}}
]
}
